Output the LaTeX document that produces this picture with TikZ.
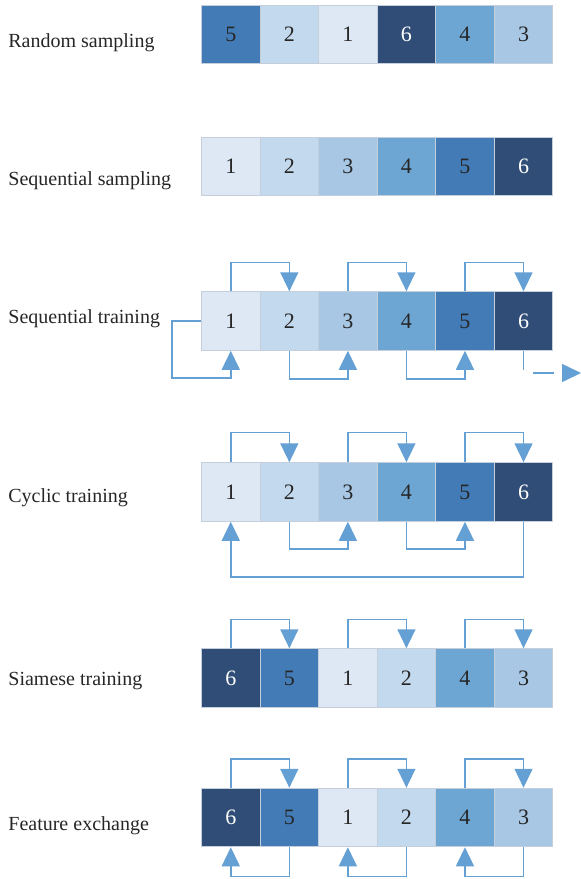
\documentclass[tikz,border=0pt]{standalone}
\usepackage{fontspec}
\setmainfont{Liberation Serif}
\usetikzlibrary{arrows.meta}
\definecolor{bx1}{HTML}{DEE8F4}
\definecolor{bx2}{HTML}{C3D9EE}
\definecolor{bx3}{HTML}{A7C7E5}
\definecolor{bx4}{HTML}{6DA5D3}
\definecolor{bx5}{HTML}{427BB6}
\definecolor{bx6}{HTML}{2F4D76}
\definecolor{cellline}{HTML}{C4CFDB}
\definecolor{flowblue}{HTML}{64A0D4}
\definecolor{inkgray}{HTML}{262626}
\tikzset{
    cell/.style={rectangle, draw=cellline, line width=0.5pt, minimum width=29.27pt, minimum height=29.25pt, inner sep=0pt, text=inkgray, font=\fontsize{11}{13}\selectfont},
    n1/.style={fill=bx1}, n2/.style={fill=bx2}, n3/.style={fill=bx3},
    n4/.style={fill=bx4}, n5/.style={fill=bx5}, n6/.style={fill=bx6, text=white},
    rowlabel/.style={anchor=base west, inner sep=0pt, text=inkgray, font=\fontsize{10}{12}\selectfont},
    flow/.style={-{Triangle[length=9.5pt, width=9pt]}, line width=0.75pt, flowblue},
}

\begin{document}
\begin{tikzpicture}[x=0.5pt, y=-0.5pt]
\useasboundingbox (0,0) rectangle (581,879);

% Row labels
\node[rowlabel] (lrand) at (8, 47) {Random sampling};
\node[rowlabel] (lseqs) at (8, 185) {Sequential sampling};
\node[rowlabel] (lseqt) at (8, 323) {Sequential training};
\node[rowlabel] (lcyc) at (8, 502) {Cyclic training};
\node[rowlabel] (lsiam) at (8, 685) {Siamese training};
\node[rowlabel] (lfeat) at (8, 830) {Feature exchange};

% Cells
\foreach \v [count=\c] in {5,2,1,6,4,3}
    \node[cell, n\v] (r1-\c) at ({201.5+58.55*(\c-0.5)}, 34.5) {\v};
\foreach \v [count=\c] in {1,2,3,4,5,6}
    \node[cell, n\v] (r2-\c) at ({201.5+58.55*(\c-0.5)}, 166.5) {\v};
\foreach \v [count=\c] in {1,2,3,4,5,6}
    \node[cell, n\v] (r3-\c) at ({201.5+58.55*(\c-0.5)}, 321) {\v};
\foreach \v [count=\c] in {1,2,3,4,5,6}
    \node[cell, n\v] (r4-\c) at ({201.5+58.55*(\c-0.5)}, 492) {\v};
\foreach \v [count=\c] in {6,5,1,2,4,3}
    \node[cell, n\v] (r5-\c) at ({201.5+58.55*(\c-0.5)}, 678) {\v};
\foreach \v [count=\c] in {6,5,1,2,4,3}
    \node[cell, n\v] (r6-\c) at ({201.5+58.55*(\c-0.5)}, 817.5) {\v};

% ── Sequential training ──
\draw[flow] (r3-1.north) -- ++(0,-29) -| (r3-2.north);
\draw[flow] (r3-3.north) -- ++(0,-29) -| (r3-4.north);
\draw[flow] (r3-5.north) -- ++(0,-29) -| (r3-6.north);
\draw[flow] (r3-2.south) -- ++(0,28) -| (r3-3.south);
\draw[flow] (r3-4.south) -- ++(0,28) -| (r3-5.south);
\draw[flow] (r3-1.west) -- ++(-29,0) -- ++(0,57) -| (r3-1.south);
\coordinate (next) at (581, 373);
\draw[flow, dash pattern=on 9.5pt off 6.5pt on 10.5pt off 10pt] (r3-6.south) |- (next);

% ── Cyclic training ──
\draw[flow] (r4-1.north) -- ++(0,-30) -| (r4-2.north);
\draw[flow] (r4-3.north) -- ++(0,-30) -| (r4-4.north);
\draw[flow] (r4-5.north) -- ++(0,-30) -| (r4-6.north);
\draw[flow] (r4-2.south) -- ++(0,27) -| (r4-3.south);
\draw[flow] (r4-4.south) -- ++(0,27) -| (r4-5.south);
\draw[flow] (r4-6.south) -- ++(0,55) -| (r4-1.south);

% ── Siamese training ──
\draw[flow] (r5-1.north) -- ++(0,-29) -| (r5-2.north);
\draw[flow] (r5-3.north) -- ++(0,-29) -| (r5-4.north);
\draw[flow] (r5-5.north) -- ++(0,-29) -| (r5-6.north);

% ── Feature exchange ──
\draw[flow] (r6-1.north) -- ++(0,-29) -| (r6-2.north);
\draw[flow] (r6-3.north) -- ++(0,-29) -| (r6-4.north);
\draw[flow] (r6-5.north) -- ++(0,-29) -| (r6-6.north);
\draw[flow] (r6-2.south) -- ++(0,29) -| (r6-1.south);
\draw[flow] (r6-4.south) -- ++(0,29) -| (r6-3.south);
\draw[flow] (r6-6.south) -- ++(0,29) -| (r6-5.south);

\end{tikzpicture}
\end{document}
